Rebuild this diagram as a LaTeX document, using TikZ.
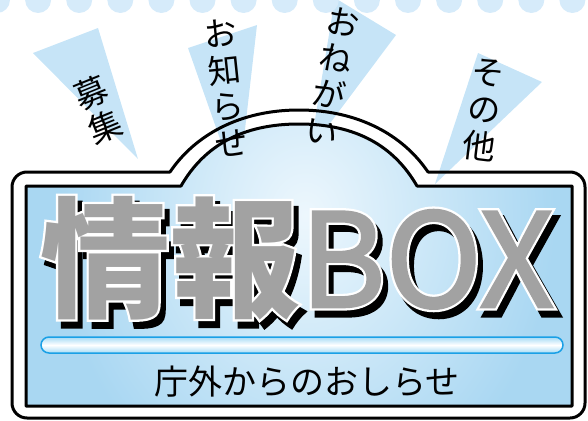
\documentclass[tikz,border=0pt]{standalone}
\usepackage{fontspec}
\newfontfamily\jpfont{Noto Sans CJK JP}
\newfontfamily\jpmid{Noto Sans CJK JP}[FakeBold=2]
\newfontfamily\jpedge{Noto Sans CJK JP}[FakeBold=3.5]
\newfontfamily\jpedgewide{Noto Sans CJK JP}[FakeBold=5.5]
\usetikzlibrary{calc}

\definecolor{boardblue}{HTML}{A9D7F2}
\definecolor{boardlight}{HTML}{EDF7FD}
\definecolor{raycolor}{HTML}{C6E4F7}
\definecolor{dotcolor}{HTML}{D6EBFA}
\definecolor{titlegray}{HTML}{A2A2A2}
\definecolor{barline}{HTML}{1AA0E6}
\definecolor{barblue}{HTML}{A6DBF6}

\tikzset{
  raytext/.style={font=\jpfont\fontsize{33}{37}\selectfont, align=center, inner sep=0pt},
  titletext/.style={font=\fontsize{130}{130}\selectfont, inner sep=0pt, anchor=base},
  subtext/.style={font=\jpfont\fontsize{34}{34}\selectfont, inner sep=0pt},
  boardline/.style={line width=3pt, line join=round}
}
\newcommand\titleface{{\jpfont\bfseries 情報}{\jpmid BOX}}
\newcommand\titleedge{{\jpedge\bfseries 情報}{\jpedgewide BOX}}

\begin{document}
\begin{tikzpicture}[x=1pt,y=-1pt]
  \useasboundingbox (0,0) rectangle (588,420);

  % Board, outer white part
  \path[fill=white] (27,172) -- (170,172) .. controls (195,135) and (240,110) .. (299,110)
     .. controls (358,110) and (403,135) .. (428,172) -- (570,172) arc(-90:0:15)
     -- (585,403) arc(0:90:15) -- (27,418) arc(90:180:15) -- (12,187) arc(180:270:15) -- cycle;

  % Rays
  \fill[raycolor] (33,53) -- (98,28) -- (138,159) -- cycle;
  \fill[raycolor] (188,48) -- (257,25) -- (238,190) -- cycle;
  \fill[raycolor] (335,-2) -- (396,35) -- (310,150) -- cycle;
  \fill[raycolor] (478,53) -- (542,82) -- (435,184) -- cycle;

  % Dots along the top
  \foreach \i in {0,...,14}
    \fill[dotcolor] (-3+41.1*\i,0) circle (13);

  % Board, inner part
  \begin{scope}
    \clip (26,186) -- (181,186) .. controls (204,146) and (242,124) .. (299,124)
       .. controls (356,124) and (394,146) .. (417,186) -- (572,186) -- (572,406) -- (26,406) -- cycle;
    \fill[boardblue] (0,100) rectangle (588,420);
    \shade[inner color=boardlight, outer color=boardblue] (305,215) ellipse (250 and 300);
  \end{scope}

  % Outlines
  \draw[boardline] (27,172) -- (170,172) .. controls (195,135) and (240,110) .. (299,110)
     .. controls (358,110) and (403,135) .. (428,172) -- (570,172) arc(-90:0:15)
     -- (585,403) arc(0:90:15) -- (27,418) arc(90:180:15) -- (12,187) arc(180:270:15) -- cycle;
  \draw[boardline] (26,186) -- (181,186) .. controls (204,146) and (242,124) .. (299,124)
     .. controls (356,124) and (394,146) .. (417,186) -- (572,186) -- (572,406) -- (26,406) -- cycle;

  % Ray labels
  \node[raytext, rotate=22] (boshu) at (98,110) {募\\集};
  \node[raytext, rotate=6] (oshirase) at (226,88) {お\\知\\ら\\せ};
  \node[raytext, rotate=-11] (onegai) at (333,76) {お\\ね\\が\\い};
  \node[raytext, rotate=-7] (sonota) at (484,110) {そ\\の\\他};

  % Title: shadow, white edge, gray face
  \node[titletext, text=black] (titleshadow) at (302,314) {\titleedge};
  \node[titletext, text=white] (titlewhite) at (297,307) {\titleedge};
  \node[titletext, text=titlegray] (title) at (297,307) {\titleface};

  % Bar
  \shade[draw=barline, line width=1.5pt, rounded corners=8, top color=barblue, bottom color=barblue,
     middle color=white] (41,337) rectangle (563,353);

  % Subtitle
  \node[subtext] (subtitle) at (307,382) {庁外からのおしらせ};
\end{tikzpicture}
\end{document}
